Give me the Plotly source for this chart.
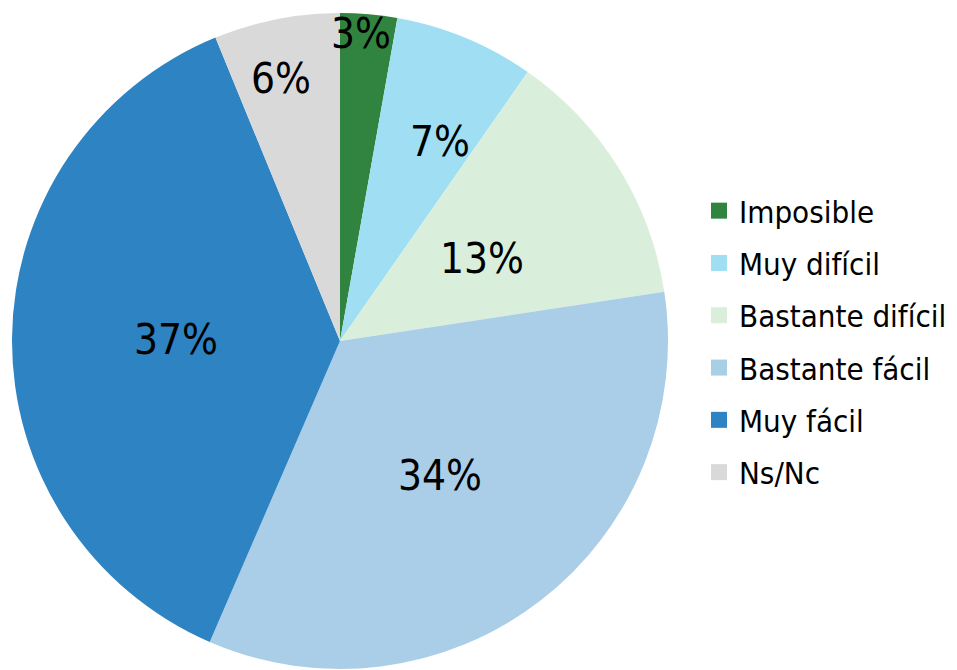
import math
import plotly.graph_objects as go

categories = ["Imposible", "Muy difícil", "Bastante difícil", "Bastante fácil", "Muy fácil", "Ns/Nc"]
values = [2.8, 6.9, 12.9, 33.9, 37.3, 6.2]
colors = ["#318440", "#A0DFF3", "#D9EFDB", "#AACDE8", "#2E83C3", "#D9D9D9"]

# label placement (radial fraction of radius, angular nudge in degrees)
label_radius = [0.94, 0.68, 0.50, 0.51, 0.50, 0.82]
label_nudge = [-1.2, 4.0, 1.5, 1.0, 0.0, -1.5]

# the page body adds an 8px margin, so the figure is drawn 8px smaller
PAGE_OFFSET = 8
W, H = 957 - PAGE_OFFSET, 670 - PAGE_OFFSET
cx_px, cy_px, r_px = 340 - PAGE_OFFSET, 341 - PAGE_OFFSET, 328

fig = go.Figure()
fig.add_trace(go.Pie(
    labels=categories, values=values, sort=False, direction="clockwise", rotation=0,
    marker=dict(colors=colors, line=dict(width=0)),
    textinfo="none", hoverinfo="label+percent", showlegend=False,
    domain=dict(x=[(cx_px - r_px) / W, (cx_px + r_px) / W],
                y=[(H - cy_px - r_px) / H, (H - cy_px + r_px) / H]),
))

# legend entries
for cat, col in zip(categories, colors):
    fig.add_trace(go.Scatter(x=[None], y=[None], mode="markers", name=cat,
                             legendgroup=cat, hoverinfo="skip",
                             marker=dict(symbol="square", size=16, color=col)))

# percentage labels
total = sum(values)
cum = 0.0
annotations = []
for v, rf, nd in zip(values, label_radius, label_nudge):
    mid = (cum + v / 2) / total * 360 + nd
    cum += v
    th = math.radians(mid)
    px = cx_px + rf * r_px * math.sin(th)
    py = cy_px - rf * r_px * math.cos(th)
    annotations.append(dict(x=px / W, y=1 - py / H, xref="paper", yref="paper",
                            xanchor="center", yanchor="middle",
                            text=f"{round(v / total * 100)}%", showarrow=False,
                            font=dict(family="DejaVu Sans Condensed, DejaVu Sans, sans-serif",
                                      size=42, color="black")))

fig.update_layout(
    width=W, height=H, margin=dict(l=0, r=0, t=0, b=0),
    paper_bgcolor="white", plot_bgcolor="white",
    xaxis=dict(visible=False, domain=[0.72, 0.73]), yaxis=dict(visible=False, domain=[0.5, 0.51]),
    annotations=annotations,
    legend=dict(x=(719 - PAGE_OFFSET - 20) / W, y=1 - (184 - PAGE_OFFSET) / H,
                xanchor="left", yanchor="top",
                font=dict(family="DejaVu Sans Condensed, DejaVu Sans, sans-serif", size=31, color="black"),
                tracegroupgap=9, itemclick=False, bgcolor="rgba(0,0,0,0)"),
    showlegend=True,
)

fig.write_html("out.html")
